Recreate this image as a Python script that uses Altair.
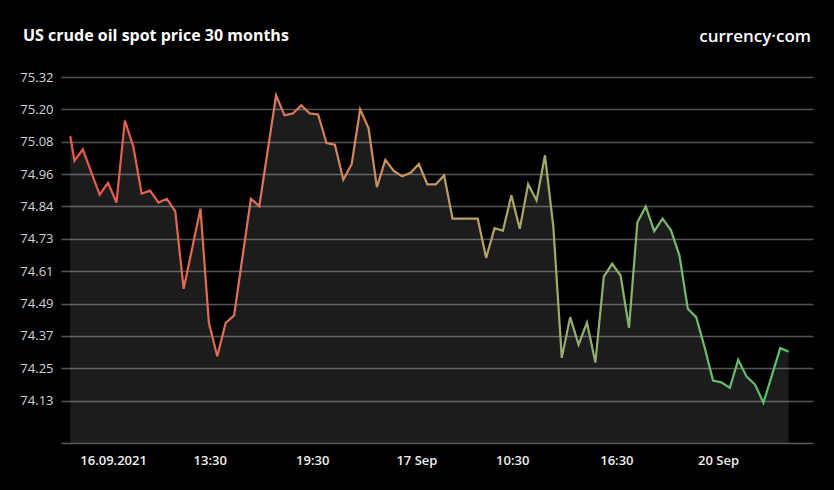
import altair as alt
import pandas as pd

# ---- data -------------------------------------------------------------
prices = [
    75.103, 75.012, 75.054, 74.970, 74.887, 74.931, 74.858, 75.160, 75.065, 74.891,
    74.902, 74.858, 74.872, 74.826, 74.541, 74.688, 74.836, 74.416, 74.293, 74.416,
    74.443, 74.658, 74.872, 74.845, 75.049, 75.253, 75.179, 75.186, 75.216, 75.186,
    75.182, 75.077, 75.071, 74.942, 75.000, 75.201, 75.132, 74.915, 75.015, 74.975,
    74.955, 74.968, 75.000, 74.925, 74.925, 74.958, 74.799, 74.799, 74.799, 74.799,
    74.655, 74.764, 74.755, 74.885, 74.762, 74.926, 74.866, 75.032, 74.768, 74.287,
    74.437, 74.336, 74.417, 74.270, 74.586, 74.633, 74.590, 74.398, 74.786, 74.844,
    74.753, 74.799, 74.756, 74.664, 74.468, 74.437, 74.326, 74.204, 74.197, 74.177,
    74.280, 74.218, 74.189, 74.122, 74.222, 74.323, 74.310,
]
# half-hour slot of each quote (first quote arrives mid-slot)
slots = [0.0] + [k + 0.5 for k in range(len(prices) - 1)]

x_tick_slots = [5.1, 16.6, 28.8, 41.2, 52.6, 65.0, 77.1]
x_tick_labels = ["16.09.2021", "13:30", "19:30", "17 Sep", "10:30", "16:30", "20 Sep"]

y_ticks = [74.13, 74.249, 74.368, 74.487, 74.606, 74.726, 74.844, 74.963, 75.082, 75.201, 75.32]
y_min, y_max = 73.974, 75.32
x_min, x_max = -1.1, 88.4

title_text = "US crude oil spot price 30 months"
brand_text = "currency·com"

df = pd.DataFrame({"slot": slots, "price": prices})

# ---- chart ------------------------------------------------------------
W, H = 752, 366

label_expr = (
    "[" + ",".join("'" + s + "'" for s in x_tick_labels) + "]"
    + "[indexof([" + ",".join(str(v) for v in x_tick_slots) + "], datum.value)]"
)

x_enc = alt.X(
    "slot:Q",
    scale=alt.Scale(domain=[x_min, x_max], nice=False, zero=False),
    axis=alt.Axis(
        values=x_tick_slots,
        tickCount=len(x_tick_slots) + 5,
        labelExpr=label_expr,
        title=None,
        grid=False,
        ticks=False,
        domain=True,
        domainColor="#5a5a5a",
        domainWidth=1.5,
        labelColor="#eeeeee",
        labelFont="Open Sans",
        labelFontWeight=600,
        labelFontSize=13,
        labelPadding=11,
        labelFlush=False,
        labelOverlap=False,
    ),
)
y_enc = alt.Y(
    "price:Q",
    scale=alt.Scale(domain=[y_min, y_max], nice=False, zero=False),
    axis=alt.Axis(
        values=y_ticks,
        tickCount=len(y_ticks) + 5,
        format=".2f",
        title=None,
        grid=True,
        gridColor="#555555",
        gridWidth=1.5,
        ticks=False,
        domain=False,
        labelColor="#d4d4d4",
        labelFont="Open Sans",
        labelFontSize=13,
        labelPadding=8,
        labelOverlap=False,
    ),
)

area = alt.Chart(df).mark_area(color="#ffffff", opacity=0.11).encode(
    x=x_enc, y=y_enc, y2=alt.datum(y_min)
)

line = alt.Chart(df).mark_line(
    strokeWidth=2.2,
    color=alt.Gradient(
        gradient="linear",
        x1=0, x2=1, y1=0, y2=0,
        stops=[
            alt.GradientStop(color="#e8564a", offset=0.0),
            alt.GradientStop(color="#d97c5c", offset=0.33),
            alt.GradientStop(color="#c49a63", offset=0.5),
            alt.GradientStop(color="#a3a86c", offset=0.65),
            alt.GradientStop(color="#7ab96c", offset=0.82),
            alt.GradientStop(color="#56c06a", offset=1.0),
        ],
    ),
).encode(x="slot:Q", y="price:Q")

title = alt.Chart(pd.DataFrame({"t": [title_text]})).mark_text(
    align="left", baseline="alphabetic", font="Open Sans", fontWeight="bold",
    fontSize=16, color="#ffffff",
).encode(text="t:N", x=alt.value(-38), y=alt.value(-36))

brand = alt.Chart(pd.DataFrame({"t": [brand_text]})).mark_text(
    align="right", baseline="alphabetic", font="Open Sans", fontWeight=600,
    fontSize=17, color="#ffffff",
).encode(text="t:N", x=alt.value(W - 2), y=alt.value(-35))

chart = (
    alt.layer(area, line, title, brand)
    .properties(
        width=W,
        height=H,
        background="#000000",
        padding={"left": 61, "top": 77, "right": 21, "bottom": 47},
        autosize=alt.AutoSizeParams(type="none"),
    )
    .configure_view(stroke=None, fill="#000000")
)

chart.save("out.html", embed_options={"renderer": "svg", "actions": False})
